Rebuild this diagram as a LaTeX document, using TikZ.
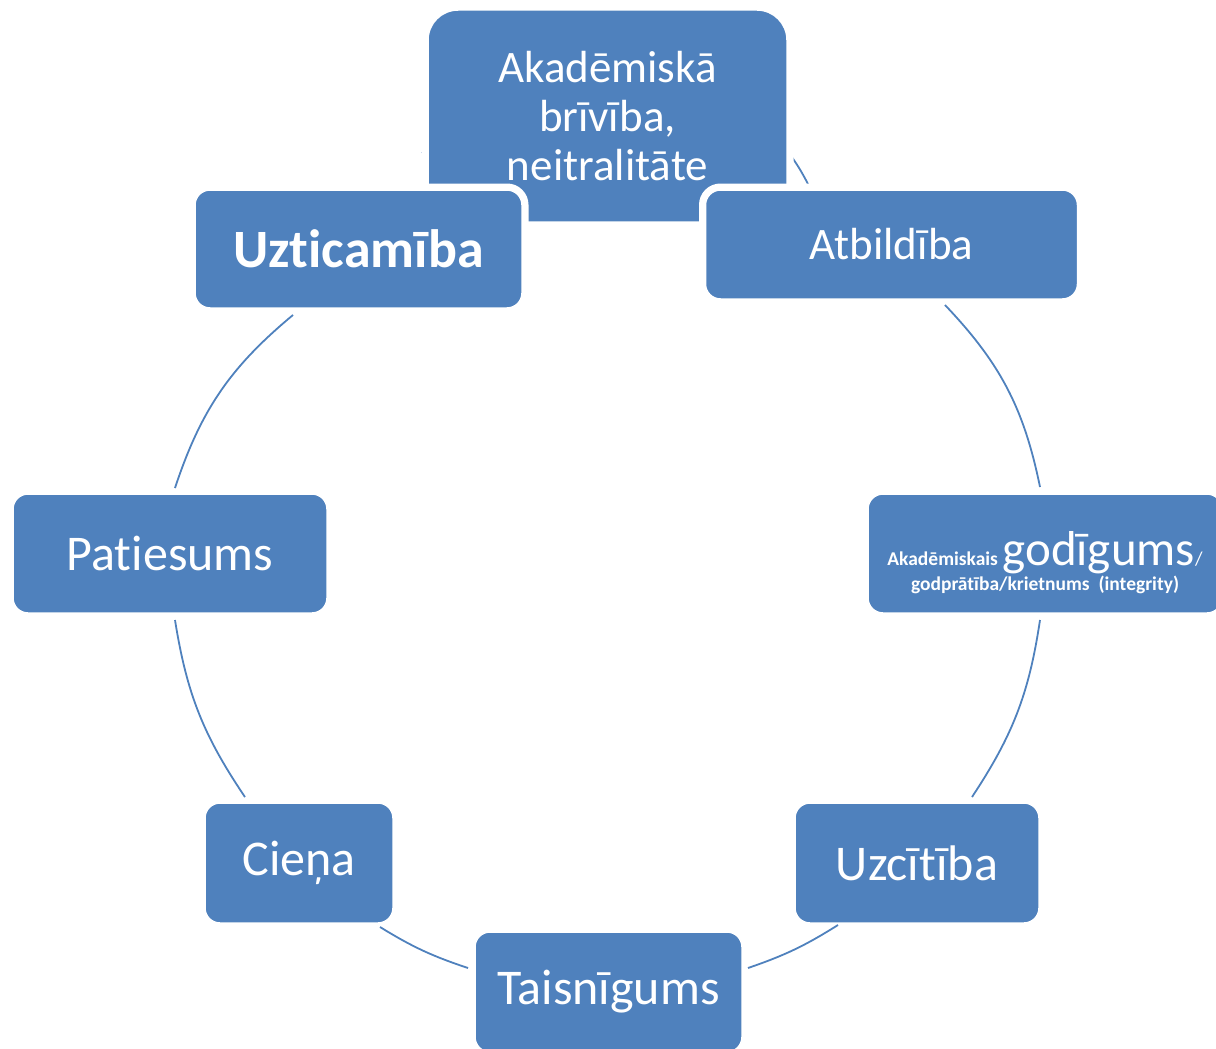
\documentclass[tikz,border=0pt]{standalone}
\usepackage{fontspec}
\setmainfont{Carlito}[RawFeature={-liga;-clig;-calt}]
\usetikzlibrary{positioning}
\definecolor{smartblue}{HTML}{4F81BD}
\newcommand{\setfs}[2]{\fontsize{#1}{#2}\selectfont}

\begin{document}
\begin{tikzpicture}[x=1pt, y=-1pt]
\tikzstyle{box} = [rectangle, rounded corners=15pt, fill=smartblue,
  draw=white, line width=1.5pt, preaction={draw=white, line width=13pt},
  text=white, align=center, inner sep=0pt]
\tikzstyle{ring} = [draw=smartblue, line width=1.8pt]

\useasboundingbox (0,0) rectangle (1216,1049);

\coordinate (top-r) at (789,153);
\coordinate (atb-in) at (808,184);
\coordinate (uzt-in) at (463,185);
\coordinate (top-l) at (422,152);
\draw[ring] (top-r) to[bend left=4] (atb-in);
\draw[ring] (uzt-in) to[bend left=4] (top-l);

\node[box, rounded corners=30pt, minimum width=359pt, minimum height=212pt,
  font=\setfs{45}{49}] (akad) at (607.5,116)
  {Akadēmiskā\\brīvība,\\neitralitāte};

\node[box, minimum width=327pt, minimum height=118pt, font=\setfs{54}{58}\bfseries]
  (uzt) at (358.5,249) {Uzticamība};
\node[box, minimum width=372pt, minimum height=109pt, font=\setfs{45}{50}]
  (atb) at (891.5,244.5) {Atbildība};
\node[box, minimum width=314pt, minimum height=119pt, font=\setfs{50}{56}]
  (pat) at (170,553.5) {Patiesums};
\node[box, minimum width=354pt, minimum height=119pt, font=\setfs{19.5}{23},
  text depth=0pt] (god) at (1045,553.5)
  {\rule{0pt}{48pt}{\bfseries Akadēmiskais} {\setfs{49}{23}godīgums}/\\[2pt]
   {\setfs{19.5}{23}\bfseries godprātība/krietnums\ \ (integrity)}};
\node[box, minimum width=188pt, minimum height=120pt, font=\setfs{50}{56}]
  (cie) at (299,863) {Cieņa};
\node[box, minimum width=244pt, minimum height=120pt, font=\setfs{50}{56}]
  (uzc) at (917,863) {Uzcītība};
\node[box, minimum width=267pt, minimum height=120pt, font=\setfs{50}{56}]
  (tai) at (608.5,992) {Taisnīgums};

\coordinate (atb-out) at (945,305);
\coordinate (god-in) at (1040,487);
\coordinate (god-out) at (1040,620);
\coordinate (uzc-in) at (972,797);
\coordinate (uzc-out) at (838,925);
\coordinate (tai-in) at (748,968);
\coordinate (tai-out) at (468,968);
\coordinate (cie-in) at (380,927);
\coordinate (cie-out) at (245,797);
\coordinate (pat-in) at (175,620);
\coordinate (pat-out) at (175,488);
\coordinate (uzt-in2) at (293,315);
\draw[ring] (atb-out) to[bend left=16] (god-in);
\draw[ring] (god-out) to[bend left=12.5] (uzc-in);
\draw[ring] (uzc-out) to[bend left=6.6] (tai-in);
\draw[ring] (tai-out) to[bend left=6.6] (cie-in);
\draw[ring] (cie-out) to[bend left=12.5] (pat-in);
\draw[ring] (pat-out) to[bend left=16] (uzt-in2);
\end{tikzpicture}
\end{document}
